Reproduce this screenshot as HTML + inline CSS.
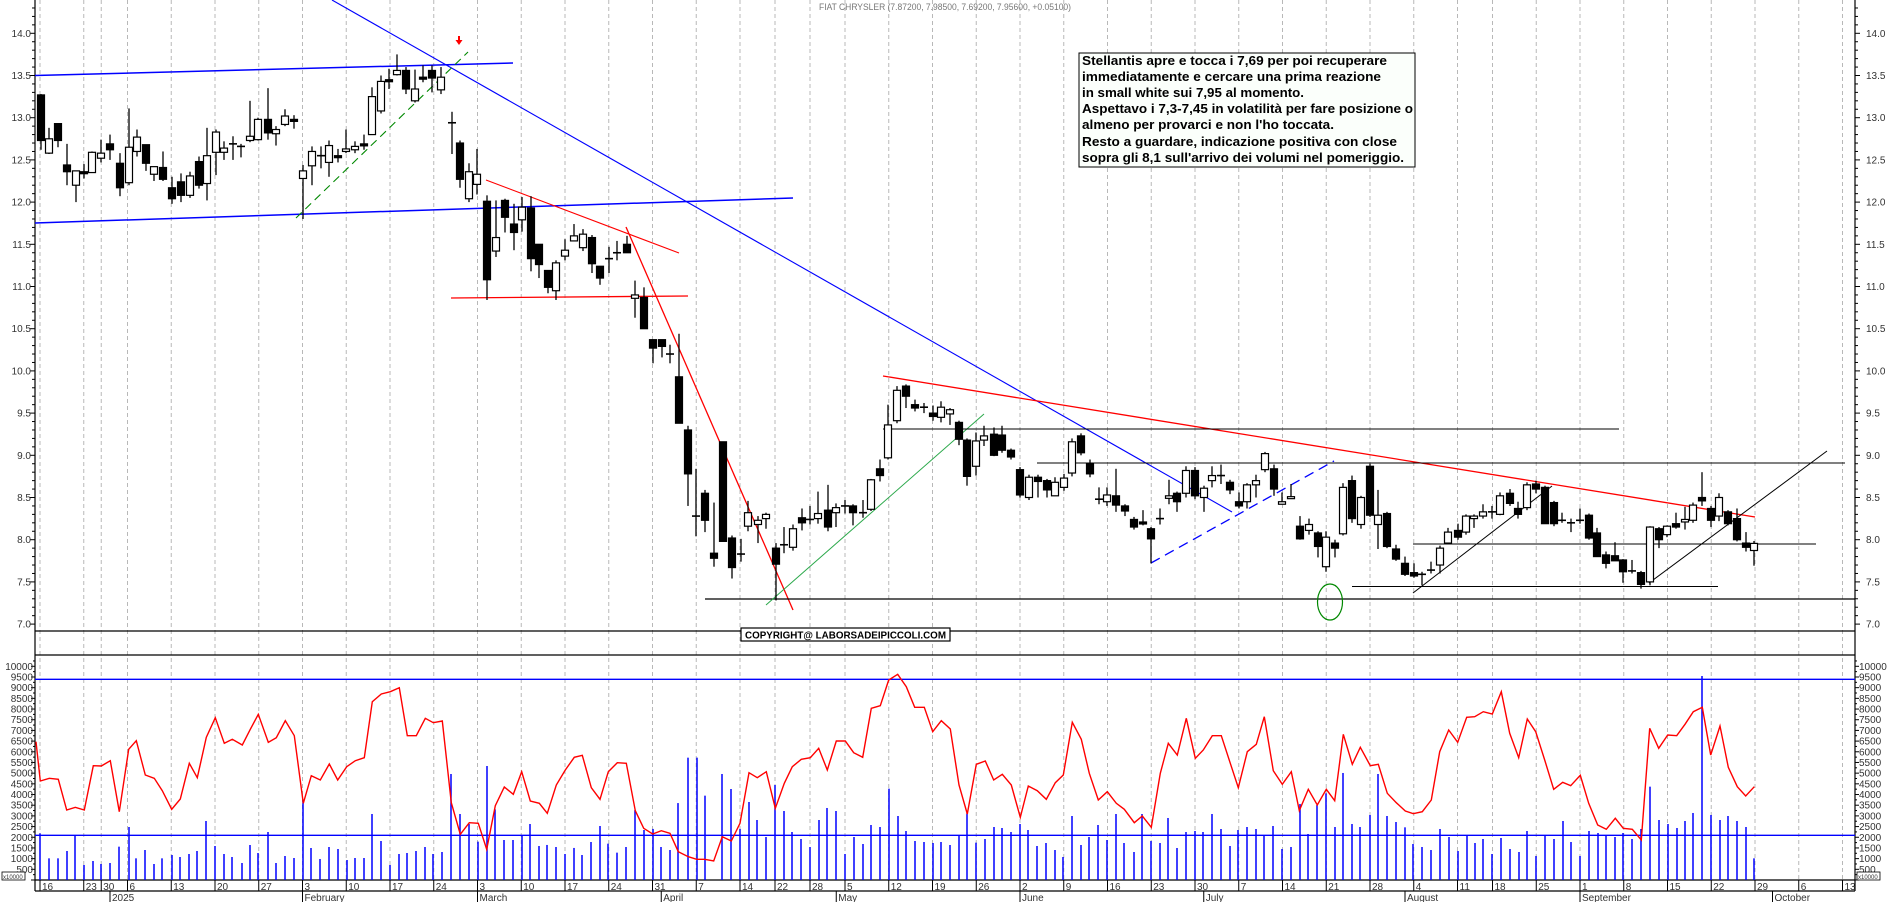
<!DOCTYPE html>
<html><head><meta charset="utf-8"><style>
html,body{margin:0;padding:0;background:#fff;}
svg{display:block;}
text{font-family:"Liberation Sans",Arial,sans-serif;}
</style></head><body>
<svg id="c" width="1890" height="902" viewBox="0 0 1890 902" xmlns="http://www.w3.org/2000/svg">
<rect width="1890" height="902" fill="#fff"/>
<g id="grid"></g>
<g id="axes"></g>
<g id="lines"></g>
<g id="vol"></g>
<g id="candles"></g>
<text x="819" y="10" font-size="9" fill="#777" textLength="252" lengthAdjust="spacingAndGlyphs">FIAT CHRYSLER (7.87200, 7.98500, 7.69200, 7.95600, +0.05100)</text>
<rect x="1079" y="53" width="336" height="114" fill="#fbfffb" stroke="#000" stroke-width="1"/>
<g font-size="13" font-weight="bold" fill="#000">
<text x="1082" y="65" textLength="305" lengthAdjust="spacingAndGlyphs">Stellantis apre e tocca i 7,69 per poi recuperare</text>
<text x="1082" y="81" textLength="299" lengthAdjust="spacingAndGlyphs">immediatamente e cercare una prima reazione</text>
<text x="1082" y="97" textLength="222" lengthAdjust="spacingAndGlyphs">in small white sui 7,95 al momento.</text>
<text x="1082" y="113" textLength="331" lengthAdjust="spacingAndGlyphs">Aspettavo i 7,3-7,45 in volatilità per fare posizione o</text>
<text x="1082" y="129" textLength="252" lengthAdjust="spacingAndGlyphs">almeno per provarci e non l'ho toccata.</text>
<text x="1082" y="146" textLength="315" lengthAdjust="spacingAndGlyphs">Resto a guardare, indicazione positiva con close</text>
<text x="1082" y="162" textLength="322" lengthAdjust="spacingAndGlyphs">sopra gli 8,1 sull'arrivo dei volumi nel pomeriggio.</text>
</g>
<rect x="741" y="628" width="209" height="13" fill="#fff" stroke="#000" stroke-width="1.2"/>
<text x="745" y="638.5" font-size="10.5" font-weight="bold" fill="#000" textLength="201" lengthAdjust="spacingAndGlyphs">COPYRIGHT@ LABORSADEIPICCOLI.COM</text>
</svg>
<script>
(function(){
var NS="http://www.w3.org/2000/svg";
function el(parent,tag,attrs,txt){var e=document.createElementNS(NS,tag);for(var k in attrs)e.setAttribute(k,attrs[k]);if(txt!==undefined)e.textContent=txt;document.getElementById(parent).appendChild(e);return e;}
function py(p){return 33.3+(14-p)*84.4;}
function vy(v){return 880-v*0.02137;}
var L=35,R=1855;
var hol=['2024-12-24','2024-12-25','2024-12-26','2024-12-31','2025-01-01','2025-04-18','2025-04-21','2025-05-01','2025-08-15'];
var d=new Date(Date.UTC(2024,11,16)),days=[];
while(d.getTime()<=Date.UTC(2025,9,17)){var dow=d.getUTCDay(),iso=d.toISOString().slice(0,10);if(dow>0&&dow<6&&hol.indexOf(iso)<0)days.push(new Date(d.getTime()));d.setUTCDate(d.getUTCDate()+1);}
var months=['2025','February','March','April','May','June','July','August','September','October'];
var base=Date.UTC(2024,11,16);
function wkey(dt){return Math.floor((dt.getTime()-base)/(7*864e5));}
for(var i=0;i<days.length;i++){
  var x=40+i*8.75;if(x>1850)break;
  var cur=days[i],prev=i>0?days[i-1]:null;
  var wk=!prev||wkey(cur)!==wkey(prev);
  if(wk){
    el('grid','line',{x1:x,y1:0,x2:x,y2:880,stroke:'#b8b8b8','stroke-width':1,'stroke-dasharray':'4,3'});
    el('axes','line',{x1:x,y1:880,x2:x,y2:891,stroke:'#000','stroke-width':1});
    el('axes','text',{x:x+2,y:890,'font-size':10,fill:'#333'},String(cur.getUTCDate()));
  }
  if(prev&&cur.getUTCMonth()!==prev.getUTCMonth()){
    var m=cur.getUTCMonth();var name=m===0?'2025':months[m];
    el('axes','line',{x1:x,y1:891,x2:x,y2:902,stroke:'#000','stroke-width':1});
    el('axes','text',{x:x+2,y:901,'font-size':10,fill:'#333'},name);
  }
}
var A=[[L,0,L,891],[R,0,R,891],[L,631,R,631],[L,655,R,655],[L,880,R,880],[L,891,R,891]];
A.forEach(function(a){el('axes','line',{x1:a[0],y1:a[1],x2:a[2],y2:a[3],stroke:'#000','stroke-width':1.2});});
for(var p=6.9;p<=14.45;p+=0.1){var y=py(p);if(y<1||y>629)continue;var maj=Math.abs(p*2-Math.round(p*2))<0.01;
  el('axes','line',{x1:L-(maj?5:3),y1:y,x2:L,y2:y,stroke:'#000','stroke-width':1});
  el('axes','line',{x1:R,y1:y,x2:R+(maj?5:3),y2:y,stroke:'#000','stroke-width':1});
  if(maj){var t=(Math.round(p*2)/2).toFixed(1);
    el('axes','text',{x:31,y:y+3.5,'font-size':10,fill:'#333','text-anchor':'end'},t);
    el('axes','text',{x:1866,y:y+3.5,'font-size':10,fill:'#333'},t);}
}
for(var v=0;v<=10500;v+=250){var y=vy(v);if(y<657)continue;var maj=v%500===0;
  el('axes','line',{x1:L-(maj?4:2),y1:y,x2:L,y2:y,stroke:'#000','stroke-width':1});
  el('axes','line',{x1:R,y1:y,x2:R+(maj?4:2),y2:y,stroke:'#000','stroke-width':1});
  if(maj&&v>=500){el('axes','text',{x:33,y:y+3.5,'font-size':10,fill:'#333','text-anchor':'end'},String(v));
    el('axes','text',{x:1859,y:y+3.5,'font-size':10,fill:'#333'},String(v));}
}
el('axes','rect',{x:2,y:872,width:23,height:8,fill:'#fff',stroke:'#000','stroke-width':0.8});
el('axes','text',{x:3,y:879,'font-size':6,fill:'#333'},'x10000');
el('axes','rect',{x:1857,y:872,width:23,height:8,fill:'#fff',stroke:'#000','stroke-width':0.8});
el('axes','text',{x:1858,y:879,'font-size':6,fill:'#333'},'x10000');
function ln(x1,y1,x2,y2,c,w,da){var a={x1:x1,y1:y1,x2:x2,y2:y2,stroke:c,'stroke-width':w||1.2};if(da)a['stroke-dasharray']=da;el('lines','line',a);}
ln(35,75.5,513,63,'#0000ff',1.5);
ln(35,223,793,198,'#0000ff',1.5);
ln(332,0,1232,512,'#0000ff',1.1);
ln(296,218,468,52,'#008800',1.1,'8,5');
ln(486,180,679,253,'#ff0000',1.1);
ln(451,298,688,296,'#ff0000',1.3);
ln(626,227,793,610,'#ff0000',1.3);
ln(705,599,1855,599,'#000',1.2);
ln(766,605,984,414,'#2aa84a',1);
ln(883,376,1755,517,'#ff0000',1.3);
ln(883,429,1619,429,'#000',1.1);
ln(1037,463,1845,463,'#000',1.1);
ln(1151,563,1334,461,'#0000ff',1.3,'10,6');
ln(1413,544,1816,544,'#000',1.1);
ln(1352,586.5,1718,586.5,'#000',1.1);
ln(1413,593,1552,486,'#000',1);
ln(1649,583,1827,451,'#000',1);
el('lines','ellipse',{cx:1330,cy:602,rx:12.5,ry:18,fill:'none',stroke:'#008800','stroke-width':1.2});
el('lines','line',{x1:459,y1:36,x2:459,y2:41,stroke:'#ff0000','stroke-width':2});
el('lines','path',{d:'M455.5,40 L462.5,40 L459,45 Z',fill:'#ff0000'});
ln(35,679.3,1855,679.3,'#0000ff',1.4);
ln(35,835.3,1855,835.3,'#0000ff',1.4);
var V=[[40,2184],[49,1014],[58,1014],[67,1357],[75,2075],[84,702],[93,889],[101,749],[110,796],[119,1560],[129,2480],[136,1014],[145,1404],[154,749],[162,1014],[172,1170],[180,1076],[189,1217],[197,1357],[206,2761],[215,1591],[224,1217],[232,1076],[242,796],[250,1638],[258,1264],[268,2246],[276,796],[285,1123],[294,1030],[303,3744],[311,1498],[320,983],[329,1544],[338,1451],[347,936],[355,1030],[364,1030],[372,3089],[381,1825],[390,702],[399,1217],[407,1264],[416,1357],[425,1544],[433,1217],[442,1310],[451,4960],[460,3089],[469,2621],
[478,1794],[487,5335],[495,3307],[504,1872],[513,1872],[522,2059],[530,2620],[539,1590],[547,1640],[556,1544],[565,1217],[574,1500],[582,1170],[591,1778],[600,2527],[608,1700],[617,1280],[626,1544],[635,3276],[644,2340],[653,2390],[661,1544],[670,1404],[678,3600],[688,5725],[697,5725],[705,3947],[722,4960],[731,4258],[740,2390],[749,3650],[757,2808],[766,2012],[775,4446],[784,3229],[792,2246],[801,1919],[810,1544],[819,2808],[827,3370],[836,3229],[845,1217],[854,2012],[863,1685],[871,2574],[880,2480],[889,4274],[898,2995],[906,2293],[915,1825],[924,1778],[933,1732],[941,1778],[950,1638],
[959,2059],[967,3120],[976,1747],[985,1919],[994,2480],[1002,2434],[1011,2246],[1020,2620],[1028,2340],[1037,1591],[1046,1732],[1055,1404],[1063,1076],[1072,2995],[1081,1638],[1089,2012],[1098,2574],[1107,1872],[1116,3089],[1124,1732],[1134,1310],[1142,3089],[1151,1825],[1160,1732],[1168,2902],[1177,1498],[1186,2246],[1195,2293],[1203,2246],[1212,3089],[1221,2387],[1230,1591],[1238,2340],[1247,2480],[1256,2387],[1264,2059],[1273,2527],[1282,1451],[1291,1544],[1300,3557],[1308,2153],[1317,3510],[1326,4056],[1335,2480],[1343,5008],[1352,2620],[1360,2480],[1370,3042],[1378,4960],[1387,2995],[1396,2714],
[1405,2465],[1413,1685],[1422,1544],[1431,1404],[1440,2387],[1449,2012],[1458,1357],[1467,2059],[1475,1732],[1483,1919],[1492,1217],[1501,1966],[1510,1451],[1519,1310],[1527,2293],[1536,1123],[1545,2059],[1554,1919],[1563,2761],[1571,1778],[1580,1123],[1589,2293],[1598,2200],[1606,2059],[1615,2012],[1623,2200],[1632,1919],[1641,2387],[1650,4368],[1659,2808],[1668,2621],[1677,2434],[1685,2761],[1693,3136],[1702,9547],[1711,3042],[1720,2808],[1728,2995],[1737,2761],[1746,2480],[1754,1014]];
V.forEach(function(b){el('vol','line',{x1:b[0],y1:880,x2:b[0],y2:vy(b[1]),stroke:'#0000ff','stroke-width':1.5});});
function seg(arr,ox,oy,xmin,xmax,out){for(var i=0;i<arr.length;i+=2){var x=ox+arr[i]/3,y=oy+arr[i+1]/3;if(x>=xmin&&x<xmax)out.push(x.toFixed(1)+','+y.toFixed(1));}}
var pts=[];
seg([108,725,121,843,148,835,175,838,200,930,226,922,253,930,280,797,304,798,331,782,358,935,386,748,409,722,436,825,463,835,487,872,515,928,541,897,568,790,592,833,619,712,646,653,673,730,697,718,727,735,751,688,775,643,805,727,829,713,856,662,883,707,910,910,934,827,961,840,988,792,1013,840,1040,800,1066,782,1093,773,1117,605,1144,582,1171,575,1198,563,1222,707,1249,707,1276,655,1300,668,1327,663,1354,908,1381,1003,1408,968],0,500,0,470,pts);
seg([25,550,50,628,76,497,103,441,130,463,155,395,181,483,208,490,232,520,259,435,286,390,313,352,337,346,364,443,390,478,415,395,442,368,469,370,496,512,521,565,548,582,574,572,600,580,625,635,655,650,680,658,704,658,731,663,757,590,784,603,810,550,837,398,862,413,889,395,916,505,943,430,967,380,994,358,1021,353,1046,325,1072,390,1099,303,1126,303,1151,338,1178,352,1204,205,1231,197,1256,120,1283,103,1309,140,1334,202,1363,202,1388,275,1414,242,1441,267],470,640,470,955,pts);
seg([27,435,52,522,79,373,106,363,131,420,157,403,184,435,211,532,235,438,262,452,289,478,316,428,340,405,367,247,394,298,418,400,445,480,472,455,499,490,523,508,553,548,577,528,604,562,631,400,655,310,682,345,709,235,736,355,760,330,787,287,814,287,841,370,865,443,892,335,919,313,943,230,970,392,997,433,1024,395,1048,512,1075,448,1102,495,1129,448,1154,482,1180,283,1207,373,1231,322,1261,377,1285,373,1312,460,1339,488],950,640,955,1400,pts);
seg([16,933,40,941,67,935,94,900,119,755,146,690,173,727,200,652,224,650,250,635,277,642,304,575,329,700,356,773,382,657,407,695,434,780,461,868,488,847,512,857,541,826,566,910,593,975,619,988,646,955,670,985,697,988,724,1020,749,685,776,745,803,705,830,707,855,673,880,635,907,622,932,765,960,678,985,802,1012,860,1037,888,1063,860],1400,500,1400,1900,pts);
el('vol','polyline',{points:pts.join(' '),fill:'none',stroke:'#ff0000','stroke-width':1.4});
var C=[[41,13.27,12.73,13.28,12.62,0],[49,12.75,12.58,12.88,12.57,1],[58,12.93,12.73,12.93,12.65,0],[67,12.44,12.36,12.69,12.2,0],[76,12.37,12.2,12.37,12.0,1],[84,12.36,12.34,12.45,12.28,0],[92,12.59,12.35,12.6,12.35,1],[101,12.58,12.52,12.74,12.47,1],[110,12.69,12.62,12.8,12.5,0],[120,12.46,12.17,12.58,12.07,0],[129,12.65,12.23,13.11,12.2,1],[137,12.77,12.6,12.86,12.54,1],[146,12.68,12.46,12.68,12.37,0],[154,12.42,12.33,12.42,12.25,1],[163,12.41,12.27,12.6,12.25,0],[172,12.17,12.04,12.3,11.98,0],[181,12.24,12.08,12.34,12.0,0],[190,12.31,12.08,12.36,12.05,1],[199,12.48,12.2,12.54,12.16,0],[207,12.55,12.22,12.88,12.02,1],[216,12.83,12.59,12.86,12.32,1],[224,12.64,12.59,12.72,12.5,1],[233,12.69,12.69,12.78,12.5,2],[241,12.66,12.66,12.69,12.53,2],[250,12.78,12.73,13.2,12.71,1],[258,12.98,12.74,13.0,12.73,1],[268,12.98,12.82,13.35,12.74,0],[276,12.86,12.81,12.9,12.67,1],[285,13.02,12.92,13.1,12.9,1],[294,12.98,12.96,13.03,12.87,0],[303,12.37,12.28,12.44,11.8,1],[312,12.6,12.43,12.66,12.2,1],[321,12.55,12.55,12.66,12.4,2],[329,12.67,12.47,12.73,12.3,1],[338,12.55,12.53,12.63,12.47,0],[346,12.63,12.6,12.86,12.58,1],[355,12.66,12.62,12.72,12.58,1],[364,12.69,12.67,12.8,12.62,0],[372,13.25,12.8,13.36,12.8,1],[381,13.43,13.08,13.5,13.05,1],[389,13.45,13.43,13.58,13.34,0],[397,13.56,13.51,13.75,13.5,1],[406,13.56,13.34,13.6,13.28,0],[415,13.34,13.2,13.57,13.18,1],[423,13.48,13.46,13.62,13.42,0],[432,13.56,13.47,13.62,13.3,0],[441,13.48,13.33,13.6,13.28,1],
[452,12.94,12.94,13.07,12.57,2],[460,12.7,12.27,12.73,12.17,0],[469,12.36,12.04,12.46,12.0,1],[477,12.33,12.21,12.63,12.09,1],[487,12.01,11.08,12.08,10.84,0],[496,11.58,11.42,12.02,11.35,1],[505,12.02,11.82,12.04,11.64,0],[514,11.74,11.64,11.98,11.43,0],[522,11.94,11.79,12.06,11.65,1],[531,11.93,11.33,12.07,11.18,0],[539,11.5,11.26,11.5,11.1,0],[548,11.19,10.99,11.19,10.92,0],[556,11.28,10.95,11.31,10.84,1],[565,11.43,11.36,11.56,11.31,1],[574,11.6,11.54,11.74,11.54,1],[583,11.62,11.46,11.68,11.42,1],[592,11.58,11.27,11.61,11.16,0],[600,11.24,11.1,11.24,11.02,0],[609,11.33,11.33,11.47,11.16,2],[617,11.4,11.4,11.54,11.31,2],[627,11.5,11.4,11.6,11.4,0],[635,10.9,10.86,11.07,10.63,1],[644,10.87,10.5,10.99,10.5,0],[653,10.37,10.27,10.37,10.09,0],[662,10.37,10.29,10.37,10.16,0],[670,10.2,10.2,10.31,10.09,2],[679,9.93,9.38,10.44,9.38,0],[688,9.3,8.78,9.35,8.4,0],[696,8.28,8.28,8.84,8.04,2],[705,8.55,8.23,8.59,8.09,0],[714,7.84,7.78,8.44,7.68,0],[723,9.16,7.98,9.16,7.98,0],[732,8.02,7.67,8.05,7.54,0],[741,7.83,7.83,8.01,7.74,2],[748,8.32,8.16,8.46,8.1,1],[758,8.23,8.18,8.28,7.96,1],[766,8.3,8.25,8.32,8.13,1],[776,7.9,7.71,7.96,7.28,0],[784,7.94,7.94,8.15,7.84,2],[793,8.13,7.91,8.18,7.87,1],[802,8.26,8.2,8.37,8.11,0],[810,8.24,8.24,8.4,8.18,2],[818,8.31,8.25,8.57,8.19,1],[828,8.35,8.15,8.65,8.1,0],[836,8.38,8.32,8.43,8.15,1],[845,8.4,8.4,8.47,8.31,2],[853,8.4,8.32,8.42,8.17,0],[863,8.32,8.32,8.47,8.26,2],[871,8.71,8.36,8.72,8.34,1],[880,8.84,8.76,8.95,8.69,0],[888,9.36,8.97,9.6,8.95,1],[897,9.77,9.41,9.82,9.38,1],
[906,9.82,9.7,9.84,9.56,0],[915,9.6,9.56,9.66,9.52,0],[924,9.57,9.57,9.62,9.5,2],[933,9.5,9.46,9.59,9.41,0],[941,9.57,9.45,9.64,9.39,1],[950,9.54,9.49,9.56,9.36,1],[959,9.39,9.19,9.41,9.12,0],[967,9.18,8.75,9.2,8.64,0],[976,9.17,8.87,9.27,8.76,1],[984,9.23,9.18,9.35,9.11,1],[994,9.25,9.0,9.33,8.99,0],[1002,9.24,9.06,9.35,9.03,0],[1011,9.06,8.98,9.08,8.95,0],[1020,8.83,8.53,8.86,8.5,0],[1029,8.74,8.5,8.77,8.47,1],[1038,8.74,8.69,8.77,8.5,0],[1047,8.7,8.59,8.72,8.5,0],[1055,8.68,8.52,8.74,8.52,1],[1064,8.73,8.62,8.78,8.58,1],[1072,9.16,8.79,9.2,8.75,1],[1081,9.23,9.03,9.26,9.0,0],[1090,8.9,8.78,8.95,8.74,0],[1099,8.48,8.48,8.62,8.42,2],[1107,8.53,8.45,8.62,8.4,1],[1116,8.52,8.41,8.84,8.33,0],[1125,8.4,8.34,8.42,8.28,0],[1134,8.24,8.15,8.27,8.12,0],[1143,8.21,8.19,8.35,8.17,0],[1151,8.13,8.01,8.15,7.72,0],[1160,8.25,8.25,8.37,8.18,2],[1169,8.52,8.49,8.71,8.42,1],[1177,8.55,8.45,8.57,8.33,0],[1186,8.82,8.55,8.87,8.5,1],[1195,8.82,8.52,8.86,8.48,0],[1204,8.61,8.5,8.64,8.33,1],[1212,8.76,8.7,8.87,8.62,1],[1221,8.76,8.76,8.89,8.66,2],[1230,8.68,8.59,8.71,8.54,0],[1239,8.45,8.4,8.56,8.37,0],[1247,8.65,8.45,8.67,8.37,1],[1256,8.7,8.65,8.77,8.5,1],[1265,9.02,8.83,9.04,8.8,1],[1274,8.84,8.6,8.89,8.52,0],[1282,8.45,8.42,8.56,8.42,1],[1291,8.51,8.51,8.66,8.49,1],[1300,8.16,8.01,8.28,8.0,0],[1309,8.18,8.11,8.25,8.06,1],[1318,8.08,7.92,8.1,7.79,0],[1326,8.03,7.68,8.1,7.62,1],[1335,7.96,7.9,8.0,7.79,0],[1343,8.62,8.07,8.67,8.05,1],[1352,8.7,8.25,8.76,8.2,0],[1361,8.5,8.18,8.52,8.13,1],[1370,8.87,8.29,8.9,8.27,0],[1378,8.29,8.18,8.59,7.89,1],[1387,8.31,7.92,8.33,7.9,0],[1396,7.89,7.77,7.94,7.75,0],[1405,7.72,7.59,7.8,7.57,0],
[1414,7.61,7.57,7.72,7.55,0],[1422,7.59,7.59,7.62,7.46,2],[1431,7.64,7.64,7.74,7.6,2],[1440,7.9,7.7,7.93,7.6,1],[1448,8.09,7.96,8.14,7.95,1],[1458,8.11,8.03,8.19,8.0,0],[1466,8.28,8.09,8.3,8.06,1],[1474,8.28,8.25,8.3,8.14,1],[1483,8.33,8.28,8.42,8.25,1],[1492,8.33,8.33,8.4,8.25,2],[1500,8.52,8.3,8.56,8.29,1],[1510,8.55,8.43,8.6,8.4,0],[1518,8.37,8.3,8.45,8.25,0],[1527,8.65,8.38,8.68,8.35,1],[1536,8.66,8.6,8.7,8.55,0],[1545,8.62,8.19,8.64,8.19,0],[1554,8.44,8.19,8.46,8.16,0],[1562,8.23,8.23,8.32,8.2,2],[1571,8.2,8.2,8.25,8.09,2],[1580,8.23,8.23,8.37,8.19,2],[1589,8.29,8.02,8.31,8.0,0],[1597,8.08,7.8,8.14,7.8,0],[1606,7.82,7.72,7.86,7.66,0],[1615,7.81,7.75,7.97,7.75,0],[1623,7.76,7.62,7.77,7.49,0],[1632,7.63,7.63,7.76,7.6,2],[1641,7.61,7.47,7.63,7.42,0],[1650,8.15,7.5,8.16,7.46,1],[1659,8.13,8.0,8.15,7.9,0],[1667,8.16,8.06,8.17,8.03,1],[1676,8.19,8.15,8.32,8.13,0],[1685,8.24,8.21,8.39,8.12,1],[1693,8.41,8.23,8.44,8.2,1],[1702,8.5,8.46,8.8,8.4,0],[1711,8.37,8.23,8.4,8.15,0],[1719,8.5,8.28,8.55,8.22,1],[1728,8.33,8.19,8.35,8.17,0],[1737,8.25,8.0,8.37,7.98,0],[1746,7.96,7.91,8.09,7.86,0],[1754,7.956,7.872,7.985,7.692,1]];
C.forEach(function(c){
  var x=c[0];
  el('candles','line',{x1:x,y1:py(c[3]),x2:x,y2:py(c[4]),stroke:'#000','stroke-width':1.3});
  if(c[5]===2){el('candles','line',{x1:x-4,y1:py(c[1]),x2:x+4,y2:py(c[1]),stroke:'#000','stroke-width':1.6});return;}
  var y1=py(c[1]),h=Math.max(py(c[2])-y1,2);
  el('candles','rect',{x:x-3.5,y:y1,width:7,height:h,fill:c[5]===0?'#000':'#fff',stroke:'#000','stroke-width':1.2});
});
})();
</script>
</body></html>
